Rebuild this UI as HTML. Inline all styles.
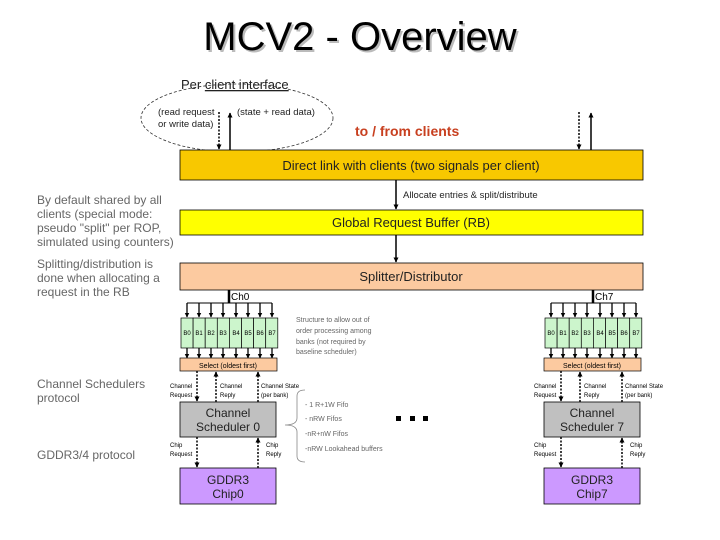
<!DOCTYPE html>
<html><head><meta charset="utf-8"><style>
html,body{margin:0;padding:0;background:#fff;}
svg{display:block;font-family:"Liberation Sans",sans-serif;}
</style></head><body>
<svg width="720" height="540" viewBox="0 0 720 540" xmlns="http://www.w3.org/2000/svg">
<defs>
<marker id="a" viewBox="0 0 10 10" refX="9" refY="5" markerWidth="3.5" markerHeight="3.5" orient="auto"><path d="M0,0L10,5L0,10z" fill="#000"/></marker>
</defs>
<!-- title -->
<text x="362" y="52" font-size="40" text-anchor="middle" fill="#bbb">MCV2 - Overview</text>
<text x="360" y="50" font-size="40" text-anchor="middle" fill="#000">MCV2 - Overview</text>
<text x="181" y="89" font-size="13" fill="#222">Per <tspan text-decoration="underline">client interface</tspan></text>
<ellipse cx="237" cy="118" rx="96" ry="34" fill="none" stroke="#333" stroke-width="0.8" stroke-dasharray="3,2"/>
<text x="158" y="115" font-size="9.5" fill="#222">(read request</text>
<text x="158" y="127" font-size="9.5" fill="#222">or write data)</text>
<text x="237" y="115" font-size="9.5" fill="#222">(state + read data)</text>
<text x="355" y="136" font-size="14" font-weight="bold" fill="#c84020">to / from clients</text>
<line x1="219" y1="112" x2="219" y2="149" stroke="#000" stroke-width="1.5" stroke-dasharray="2,1.5" marker-end="url(#a)"/>
<line x1="230" y1="150" x2="230" y2="113" stroke="#000" stroke-width="1.5" marker-end="url(#a)"/>
<line x1="579" y1="112" x2="579" y2="149" stroke="#000" stroke-width="1.5" stroke-dasharray="2,1.5" marker-end="url(#a)"/>
<line x1="591" y1="150" x2="591" y2="113" stroke="#000" stroke-width="1.5" marker-end="url(#a)"/>
<!-- big boxes -->
<rect x="180" y="150" width="463" height="30" fill="#f8c800" stroke="#000" stroke-width="0.8"/>
<text x="411" y="170" font-size="13" text-anchor="middle" fill="#222">Direct link with clients (two signals per client)</text>
<line x1="396" y1="180" x2="396" y2="209" stroke="#000" stroke-width="1.5" marker-end="url(#a)"/>
<text x="403" y="198" font-size="9.5" fill="#222">Allocate entries &amp; split/distribute</text>
<rect x="180" y="210" width="463" height="25" fill="#ffff00" stroke="#000" stroke-width="0.8"/>
<text x="411" y="227" font-size="13" text-anchor="middle" fill="#222">Global Request Buffer (RB)</text>
<line x1="396" y1="235" x2="396" y2="262" stroke="#000" stroke-width="1.5" marker-end="url(#a)"/>
<rect x="180" y="263" width="463" height="27" fill="#fccaa0" stroke="#000" stroke-width="0.8"/>
<text x="411" y="281" font-size="13" text-anchor="middle" fill="#222">Splitter/Distributor</text>
<!-- left notes -->
<g font-size="12" fill="#666">
<text x="37" y="204">By default shared by all</text>
<text x="37" y="218">clients (special mode:</text>
<text x="37" y="232">pseudo "split" per ROP,</text>
<text x="37" y="246">simulated using counters)</text>
<text x="37" y="268">Splitting/distribution is</text>
<text x="37" y="282">done when allocating a</text>
<text x="37" y="296">request in the RB</text>
<text x="37" y="388">Channel Schedulers</text>
<text x="37" y="402">protocol</text>
<text x="37" y="459">GDDR3/4 protocol</text>
</g>
<g font-size="7" fill="#666">
<text x="296" y="322">Structure to allow out of</text>
<text x="296" y="333">order processing among</text>
<text x="296" y="344">banks (not required by</text>
<text x="296" y="354">baseline scheduler)</text>
<text x="305" y="407">- 1 R+1W Fifo</text>
<text x="305" y="421">- nRW Fifos</text>
<text x="305" y="436">-nR+nW Fifos</text>
<text x="305" y="451">-nRW Lookahead buffers</text>
</g>
<path d="M305,390 Q297,390 297,396 L297,418 Q297,425 285,425 Q297,425 297,432 L297,456 Q297,462 305,462" fill="none" stroke="#888" stroke-width="0.8"/>
<rect x="396" y="416" width="5" height="5" fill="#000"/>
<rect x="410" y="416" width="5" height="5" fill="#000"/>
<rect x="423" y="416" width="5" height="5" fill="#000"/>

<!-- channel 0 -->
<g id="ch">
<line x1="229" y1="290" x2="229" y2="303" stroke="#000" stroke-width="2.5"/>
<text x="231" y="300" font-size="10" fill="#000">Ch0</text>
<line x1="187" y1="303" x2="272" y2="303" stroke="#000" stroke-width="1"/>
<g stroke="#000" stroke-width="1.3" marker-end="url(#a)">
<line x1="187" y1="303" x2="187" y2="317"/><line x1="199" y1="303" x2="199" y2="317"/><line x1="211" y1="303" x2="211" y2="317"/><line x1="223" y1="303" x2="223" y2="317"/><line x1="236" y1="303" x2="236" y2="317"/><line x1="248" y1="303" x2="248" y2="317"/><line x1="260" y1="303" x2="260" y2="317"/><line x1="272" y1="303" x2="272" y2="317"/>
<line x1="187" y1="348" x2="187" y2="358"/><line x1="199" y1="348" x2="199" y2="358"/><line x1="211" y1="348" x2="211" y2="358"/><line x1="223" y1="348" x2="223" y2="358"/><line x1="236" y1="348" x2="236" y2="358"/><line x1="248" y1="348" x2="248" y2="358"/><line x1="260" y1="348" x2="260" y2="358"/><line x1="272" y1="348" x2="272" y2="358"/>
</g>
<g fill="#ccf5cc" stroke="#000" stroke-width="0.7">
<rect x="181" y="318" width="12.1" height="30"/><rect x="193.1" y="318" width="12.1" height="30"/><rect x="205.2" y="318" width="12.1" height="30"/><rect x="217.3" y="318" width="12.1" height="30"/><rect x="229.4" y="318" width="12.1" height="30"/><rect x="241.5" y="318" width="12.1" height="30"/><rect x="253.6" y="318" width="12.1" height="30"/><rect x="265.7" y="318" width="12.1" height="30"/>
</g>
<g font-size="6" fill="#000" text-anchor="middle">
<text x="187" y="335">B0</text><text x="199" y="335">B1</text><text x="211" y="335">B2</text><text x="223" y="335">B3</text><text x="236" y="335">B4</text><text x="248" y="335">B5</text><text x="260" y="335">B6</text><text x="272" y="335">B7</text>
</g>
<rect x="180" y="358" width="97" height="13" fill="#fccaa0" stroke="#000" stroke-width="0.7"/>
<text x="228" y="368" font-size="7" text-anchor="middle" fill="#000">Select (oldest first)</text>
<g stroke="#000" stroke-width="1.5" stroke-dasharray="2,1.5" marker-end="url(#a)">
<line x1="197" y1="371" x2="197" y2="401"/>
<line x1="216" y1="402" x2="216" y2="372"/>
<line x1="258" y1="402" x2="258" y2="372"/>
<line x1="197" y1="437" x2="197" y2="467"/>
<line x1="258" y1="468" x2="258" y2="438"/>
</g>
<g font-size="6" fill="#000">
<text x="170" y="388">Channel</text><text x="170" y="397">Request</text>
<text x="220" y="388">Channel</text><text x="220" y="397">Reply</text>
<text x="261" y="388">Channel State</text><text x="261" y="397">(per bank)</text>
<text x="170" y="447">Chip</text><text x="170" y="456">Request</text>
<text x="266" y="447">Chip</text><text x="266" y="456">Reply</text>
</g>
<rect x="180" y="402" width="96" height="35" fill="#c0c0c0" stroke="#000" stroke-width="0.8"/>
<text x="228" y="417" font-size="12" text-anchor="middle" fill="#222">Channel</text>
<text x="228" y="431" font-size="12" text-anchor="middle" fill="#222">Scheduler 0</text>
<rect x="180" y="468" width="96" height="36" fill="#cc99ff" stroke="#000" stroke-width="0.8"/>
<text x="228" y="484" font-size="12" text-anchor="middle" fill="#222">GDDR3</text>
<text x="228" y="498" font-size="12" text-anchor="middle" fill="#222">Chip0</text>
</g>

<!-- channel 7 -->
<g transform="translate(364,0)">
<line x1="229" y1="290" x2="229" y2="303" stroke="#000" stroke-width="2.5"/>
<text x="231" y="300" font-size="10" fill="#000">Ch7</text>
<line x1="187" y1="303" x2="272" y2="303" stroke="#000" stroke-width="1"/>
<g stroke="#000" stroke-width="1.3" marker-end="url(#a)">
<line x1="187" y1="303" x2="187" y2="317"/><line x1="199" y1="303" x2="199" y2="317"/><line x1="211" y1="303" x2="211" y2="317"/><line x1="223" y1="303" x2="223" y2="317"/><line x1="236" y1="303" x2="236" y2="317"/><line x1="248" y1="303" x2="248" y2="317"/><line x1="260" y1="303" x2="260" y2="317"/><line x1="272" y1="303" x2="272" y2="317"/>
<line x1="187" y1="348" x2="187" y2="358"/><line x1="199" y1="348" x2="199" y2="358"/><line x1="211" y1="348" x2="211" y2="358"/><line x1="223" y1="348" x2="223" y2="358"/><line x1="236" y1="348" x2="236" y2="358"/><line x1="248" y1="348" x2="248" y2="358"/><line x1="260" y1="348" x2="260" y2="358"/><line x1="272" y1="348" x2="272" y2="358"/>
</g>
<g fill="#ccf5cc" stroke="#000" stroke-width="0.7">
<rect x="181" y="318" width="12.1" height="30"/><rect x="193.1" y="318" width="12.1" height="30"/><rect x="205.2" y="318" width="12.1" height="30"/><rect x="217.3" y="318" width="12.1" height="30"/><rect x="229.4" y="318" width="12.1" height="30"/><rect x="241.5" y="318" width="12.1" height="30"/><rect x="253.6" y="318" width="12.1" height="30"/><rect x="265.7" y="318" width="12.1" height="30"/>
</g>
<g font-size="6" fill="#000" text-anchor="middle">
<text x="187" y="335">B0</text><text x="199" y="335">B1</text><text x="211" y="335">B2</text><text x="223" y="335">B3</text><text x="236" y="335">B4</text><text x="248" y="335">B5</text><text x="260" y="335">B6</text><text x="272" y="335">B7</text>
</g>
<rect x="180" y="358" width="97" height="13" fill="#fccaa0" stroke="#000" stroke-width="0.7"/>
<text x="228" y="368" font-size="7" text-anchor="middle" fill="#000">Select (oldest first)</text>
<g stroke="#000" stroke-width="1.5" stroke-dasharray="2,1.5" marker-end="url(#a)">
<line x1="197" y1="371" x2="197" y2="401"/>
<line x1="216" y1="402" x2="216" y2="372"/>
<line x1="258" y1="402" x2="258" y2="372"/>
<line x1="197" y1="437" x2="197" y2="467"/>
<line x1="258" y1="468" x2="258" y2="438"/>
</g>
<g font-size="6" fill="#000">
<text x="170" y="388">Channel</text><text x="170" y="397">Request</text>
<text x="220" y="388">Channel</text><text x="220" y="397">Reply</text>
<text x="261" y="388">Channel State</text><text x="261" y="397">(per bank)</text>
<text x="170" y="447">Chip</text><text x="170" y="456">Request</text>
<text x="266" y="447">Chip</text><text x="266" y="456">Reply</text>
</g>
<rect x="180" y="402" width="96" height="35" fill="#c0c0c0" stroke="#000" stroke-width="0.8"/>
<text x="228" y="417" font-size="12" text-anchor="middle" fill="#222">Channel</text>
<text x="228" y="431" font-size="12" text-anchor="middle" fill="#222">Scheduler 7</text>
<rect x="180" y="468" width="96" height="36" fill="#cc99ff" stroke="#000" stroke-width="0.8"/>
<text x="228" y="484" font-size="12" text-anchor="middle" fill="#222">GDDR3</text>
<text x="228" y="498" font-size="12" text-anchor="middle" fill="#222">Chip7</text>
</g>
</svg>
</body></html>
